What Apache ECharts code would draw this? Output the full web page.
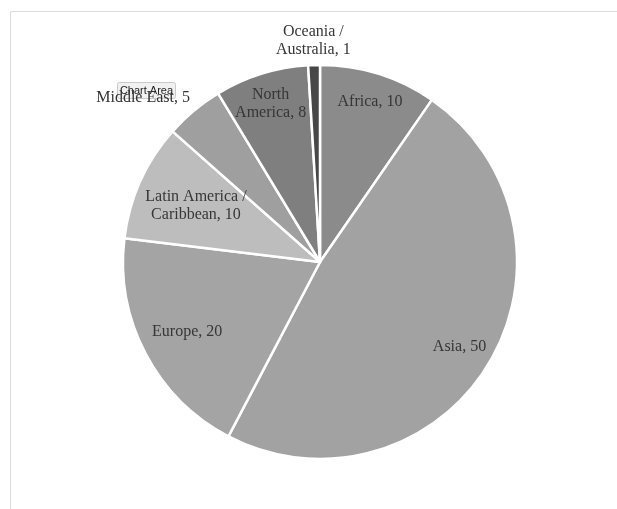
<!DOCTYPE html>
<html>
<head>
<meta charset="utf-8">
<script src="https://cdn.jsdelivr.net/npm/echarts@6/dist/echarts.min.js"></script>
<style>
html,body{margin:0;padding:0;background:#fff;}
#chart{width:617px;height:509px;}
</style>
</head>
<body>
<div id="chart"></div>
<script>
// ---- data ----
const categories = ['Africa', 'Asia', 'Europe', 'Latin America /\nCaribbean', 'Middle East', 'North\nAmerica', 'Oceania /\nAustralia'];
const values = [10, 50, 20, 10, 5, 8, 1];

// ---- styles (not data) ----
const sliceColors = ['#8b8b8b', '#a2a2a2', '#a4a4a4', '#bdbdbd', '#9f9f9f', '#7f7f7f', '#474747'];
// distance of each label centre from pie centre (px); null = outside label
const labelRadius = [168, 163, 150, 136, null, 166, 221];
const center = [320, 262];
const pieRadius = 197;
const fontFamily = '"Liberation Serif", "Times New Roman", serif';

const chart = echarts.init(document.getElementById('chart'), null, {renderer: 'canvas'});

const baseData = categories.map((c, i) => ({
  name: c,
  value: values[i],
  itemStyle: {color: sliceColors[i]},
  label: labelRadius[i] === null ? {
    show: true,
    position: 'outside',
    formatter: '{b}, {c}',
    color: '#333',
    fontSize: 16,
    fontFamily: fontFamily,
    distanceToLabelLine: -7
  } : {show: false},
  labelLine: {show: false, length: 17, length2: 0}
}));

const series = [{
  type: 'pie',
  center: center,
  radius: pieRadius,
  startAngle: 90,
  clockwise: true,
  avoidLabelOverlap: false,
  silent: true,
  itemStyle: {borderColor: '#ffffff', borderWidth: 2.5},
  emphasis: {disabled: true},
  data: baseData
}];

// transparent overlay pies that carry the inside labels
labelRadius.forEach((lr, i) => {
  if (lr === null) return;
  series.push({
    type: 'pie',
    center: center,
    radius: 2 * (lr - 3),
    startAngle: 90,
    clockwise: true,
    avoidLabelOverlap: false,
    silent: true,
    emphasis: {disabled: true},
    itemStyle: {color: 'rgba(0,0,0,0)', borderWidth: 0},
    labelLine: {show: false},
    data: categories.map((c, j) => ({
      name: c,
      value: values[j],
      label: {
        show: j === i,
        position: 'inside',
        formatter: '{b}, {c}',
        color: '#363636',
        fontSize: 16,
        lineHeight: 18,
        fontFamily: fontFamily
      }
    }))
  });
});

chart.setOption({
  backgroundColor: '#ffffff',
  animation: false,
  tooltip: {show: false},
  graphic: [
    {
      type: 'rect',
      shape: {x: 10.5, y: 11.5, width: 700, height: 600},
      style: {fill: 'none', stroke: '#dcdcdc', lineWidth: 1},
      silent: true,
      z: -1
    },
    {
      type: 'group',
      z: 100,
      children: [
        {
          type: 'rect',
          shape: {x: 117.5, y: 82.5, width: 58, height: 16, r: 2},
          style: {fill: '#f1f1f1', stroke: '#c9c9c9', lineWidth: 1}
        },
        {
          type: 'text',
          x: 146.5, y: 90.5,
          style: {text: 'Chart Area', font: '11px "Liberation Sans", Arial, sans-serif', fill: '#1e1e1e', align: 'center', verticalAlign: 'middle'}
        }
      ]
    }
  ],
  series: series
});
</script>
</body>
</html>
